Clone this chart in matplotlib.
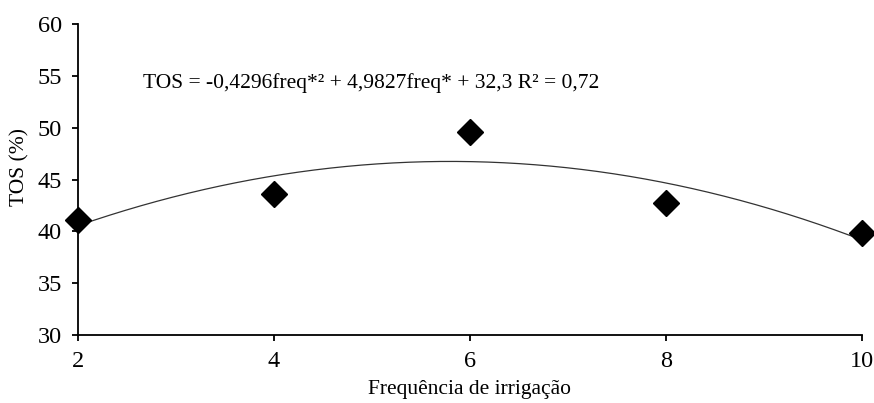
import numpy as np
import matplotlib.pyplot as plt

plt.rcParams['font.family'] = ['Liberation Serif', 'DejaVu Serif']

freq = [2, 4, 6, 8, 10]
tos = [41.1, 43.6, 49.6, 42.7, 39.8]
coef = [-0.4296, 4.9827, 32.3]
eq_label = 'TOS = -0,4296freq*² + 4,9827freq* + 32,3 R² = 0,72'

fig = plt.figure(figsize=(8.74, 4.03), dpi=100)
ax = fig.add_axes([0.0892, 0.169, 0.8970, 0.771])

xs = np.linspace(2, 10, 200)
ax.plot(xs, np.polyval(coef, xs), color='#333333', lw=0.9)
ax.plot(freq, tos, 'D', color='black', markersize=13.5, clip_on=False, zorder=3)

ax.set_xlim(2, 10)
ax.set_ylim(30, 60)
ax.set_xticks(freq)
ax.set_yticks(range(30, 61, 5))
ax.spines['top'].set_visible(False)
ax.spines['right'].set_visible(False)
for s in ['left', 'bottom']:
    ax.spines[s].set_linewidth(1.3)
ax.tick_params(direction='out', length=4.5, width=1.3, labelsize=17.5, pad=7)

ax.text(2.66, 54.3, eq_label, fontsize=15.5, va='center', ha='left')
ax.set_ylabel('TOS (%)', fontsize=15.5)
ax.yaxis.set_label_coords(-0.062, 0.54)
ax.set_xlabel('Frequência de irrigação', fontsize=15.5, labelpad=6)

fig.savefig('out.png', dpi=100)
